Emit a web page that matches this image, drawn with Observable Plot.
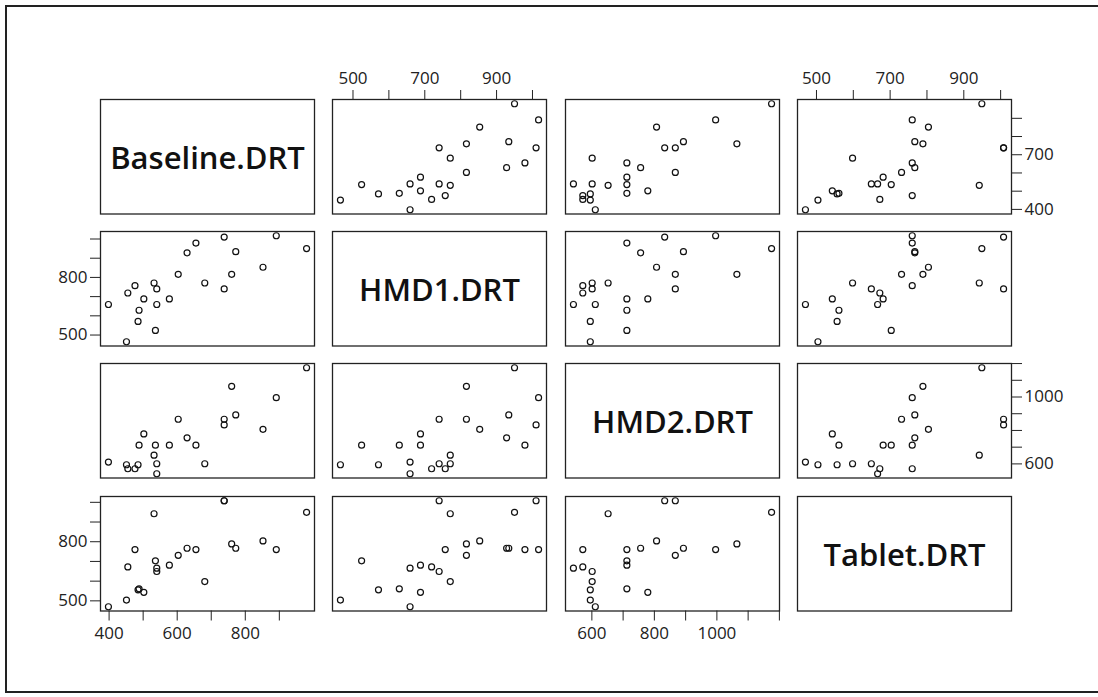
<!DOCTYPE html>
<html><head><meta charset="utf-8">
<script src="https://cdn.jsdelivr.net/npm/d3@7"></script>
<script src="https://cdn.jsdelivr.net/npm/@observablehq/plot@0.6"></script>
<style>
html,body{margin:0;padding:0;background:#fff;}
#chart{position:relative;width:1098px;height:697px;overflow:hidden;background:#fff;}
#frame{position:absolute;left:5px;top:5px;width:1200px;height:688px;border-left:2px solid #222;border-top:2px solid #222;border-bottom:2px solid #222;box-sizing:border-box;}
.panel{position:absolute;}
.panel svg{overflow:visible;}
</style></head><body><div id="chart"><div id="frame"></div></div>
<script>
// variable names (diagonal labels)
const variables = ["Baseline.DRT", "HMD1.DRT", "HMD2.DRT", "Tablet.DRT"];
// one value per participant, same order in every array
const baseline = [398, 451, 455, 476, 485, 488, 502, 532, 536, 540, 540, 577, 603, 629, 655, 681, 738, 738, 760, 772, 852, 891, 980];
const hmd1     = [659, 465, 719, 757, 571, 629, 688, 771, 524, 740, 659, 688, 816, 928, 979, 771, 1010, 740, 816, 934, 853, 1017, 950];
const hmd2     = [611, 595, 571, 571, 595, 712, 779, 652, 712, 601, 541, 712, 867, 756, 712, 601, 833, 867, 1064, 893, 807, 996, 1175];
const tablet   = [470, 504, 672, 760, 556, 561, 543, 942, 703, 649, 666, 681, 731, 767, 760, 598, 1008, 1008, 789, 767, 804, 760, 949];
// tick values and the labels that are printed on each side
const baselineTicks = [400, 500, 600, 700, 800, 900];
const hmd1Ticks = [500, 600, 700, 800, 900, 1000];
const hmd2Ticks = [600, 700, 800, 900, 1000, 1100, 1200];
const tabletTicks = [500, 600, 700, 800, 900, 1000];
const baselineBottomLabels = [400, 600, 800];
const baselineRightLabels = [400, 700];
const hmd1TopLabels = [500, 700, 900];
const hmd1LeftLabels = [500, 800];
const hmd2BottomLabels = [600, 800, 1000];
const hmd2RightLabels = [600, 1000];
const tabletTopLabels = [500, 700, 900];
const tabletLeftLabels = [500, 800];

const columns = [baseline, hmd1, hmd2, tablet];
const data = baseline.map((_, k) => Object.fromEntries(variables.map((v, i) => [v, columns[i][k]])));
const ticksOf = {"Baseline.DRT": baselineTicks, "HMD1.DRT": hmd1Ticks, "HMD2.DRT": hmd2Ticks, "Tablet.DRT": tabletTicks};
const xLabels = {"Baseline.DRT": baselineBottomLabels, "HMD1.DRT": hmd1TopLabels, "HMD2.DRT": hmd2BottomLabels, "Tablet.DRT": tabletTopLabels};
const yLabels = {"Baseline.DRT": baselineRightLabels, "HMD1.DRT": hmd1LeftLabels, "HMD2.DRT": hmd2RightLabels, "Tablet.DRT": tabletLeftLabels};

// layout
const colLeft = [99.5, 332, 564.5, 797];
const rowTop = [98.5, 230.5, 362.5, 495.5];
const PW = 214, PH = 114.5, M = 60;
const font = "'Open Sans', 'DejaVu Sans', sans-serif";

function domainOf(v) {
  const [a, b] = d3.extent(data, d => d[v]);
  const p = (b - a) * 0.04;
  return [a - p, b + p];
}
function ticksIn(v) {
  const [a, b] = domainOf(v);
  return ticksOf[v].filter(t => t >= a && t <= b);
}

const chart = document.getElementById("chart");
for (let i = 0; i < 4; i++) {
  for (let j = 0; j < 4; j++) {
    const xv = variables[j], yv = variables[i];
    let svg;
    const common = {
      width: PW + 2 * M, height: PH + 2 * M,
      marginTop: M, marginBottom: M, marginLeft: M, marginRight: M,
      style: {fontFamily: font, fontSize: "17px", color: "#222", background: "transparent", overflow: "visible"}
    };
    if (i === j) {
      svg = Plot.plot({
        ...common,
        marks: [
          Plot.frame({stroke: "#222", strokeWidth: 1.3}),
          Plot.text([yv], {frameAnchor: "middle", text: d => d, fontSize: 31, fontWeight: 600, fill: "#111", fontFamily: font, dy: 2})
        ]
      });
    } else {
      let xAxis = null, yAxis = null;
      if (i === 0 && j % 2 === 1) xAxis = "top";
      if (i === 3 && j % 2 === 0) xAxis = "bottom";
      if (j === 0 && i % 2 === 1) yAxis = "left";
      if (j === 3 && i % 2 === 0) yAxis = "right";
      svg = Plot.plot({
        ...common,
        x: {domain: domainOf(xv), axis: xAxis, ticks: ticksIn(xv), tickFormat: d => xLabels[xv].includes(d) ? String(d) : "", tickSize: 10, tickPadding: 6, label: null},
        y: {domain: domainOf(yv), axis: yAxis, ticks: ticksIn(yv), tickFormat: d => yLabels[yv].includes(d) ? String(d) : "", tickSize: 10, tickPadding: 3, label: null},
        marks: [
          Plot.frame({stroke: "#222", strokeWidth: 1.3}),
          Plot.dot(data, {x: xv, y: yv, r: 3, stroke: "#111", strokeWidth: 1.2, fill: "none"})
        ]
      });
    }
    const wrap = document.createElement("div");
    wrap.className = "panel";
    wrap.style.left = (colLeft[j] - M) + "px";
    wrap.style.top = (rowTop[i] - M) + "px";
    wrap.appendChild(svg);
    chart.appendChild(wrap);
  }
}
</script>
</body></html>
